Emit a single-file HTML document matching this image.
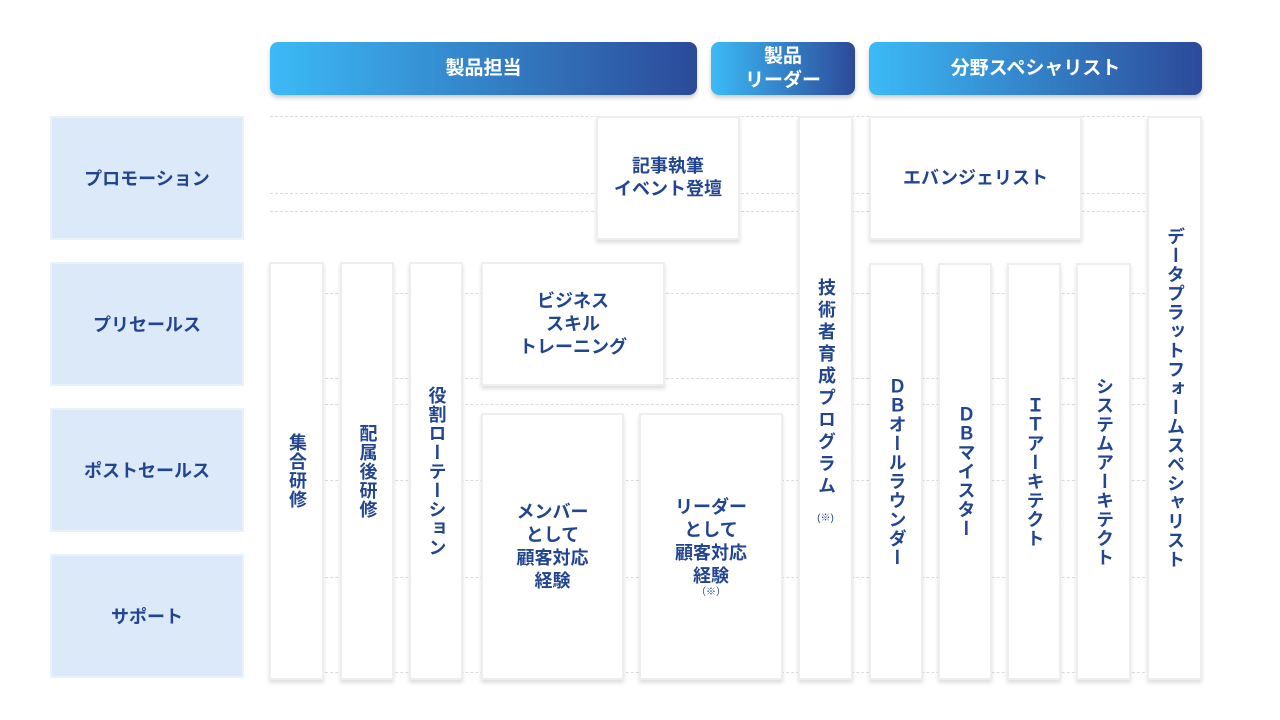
<!DOCTYPE html><html><head><meta charset="utf-8"><style>
body{margin:0;width:1280px;height:720px;background:#fff;position:relative;overflow:hidden;font-family:"Liberation Sans","Noto Sans CJK JP",sans-serif;font-weight:bold;color:#22458f}
.a{position:absolute;box-sizing:border-box;display:flex;align-items:center;justify-content:center;text-align:center}
.h{background:linear-gradient(90deg,#3cbaf7,#2c4a98);color:#fff;border-radius:8px;font-size:19px;box-shadow:0 3px 4px rgba(0,0,0,.2);line-height:24px}
.r{background:#dbe9f8;border:2px solid #e9f1fb;font-size:18px}
.b{background:#fff;border:2px solid #eeeeee;box-shadow:0 3px 4px rgba(0,0,0,.13);font-size:18px;line-height:23px}
.v{writing-mode:vertical-rl;text-orientation:upright;font-size:18px;letter-spacing:1px}
.d{position:absolute;left:270px;width:930px;border-top:1px dashed #dcdcdc;height:0}
small{font-size:10px;font-weight:normal}
</style></head><body>
<div class="d" style="top:116px"></div><div class="d" style="top:193px"></div><div class="d" style="top:211px"></div>
<div class="d" style="top:293px"></div><div class="d" style="top:378px"></div><div class="d" style="top:404px"></div>
<div class="d" style="top:480px"></div><div class="d" style="top:577px"></div><div class="d" style="top:672px"></div>

<div class="a h" style="left:270px;top:42px;width:427px;height:53px">製品担当</div>
<div class="a h" style="left:711px;top:42px;width:144px;height:53px">製品<br>リーダー</div>
<div class="a h" style="left:869px;top:42px;width:333px;height:53px">分野スペシャリスト</div>

<div class="a r" style="left:50px;top:116px;width:194px;height:124px">プロモーション</div>
<div class="a r" style="left:50px;top:262px;width:194px;height:124px">プリセールス</div>
<div class="a r" style="left:50px;top:408px;width:194px;height:124px">ポストセールス</div>
<div class="a r" style="left:50px;top:554px;width:194px;height:124px">サポート</div>

<div class="a b" style="left:269px;top:262px;width:55px;height:418px"><span class="v">集合研修</span></div>
<div class="a b" style="left:340px;top:262px;width:54px;height:418px"><span class="v">配属後研修</span></div>
<div class="a b" style="left:409px;top:262px;width:54px;height:418px"><span class="v">役割ローテーション</span></div>
<div class="a b" style="left:481px;top:262px;width:184px;height:124px">ビジネス<br>スキル<br>トレーニング</div>
<div class="a b" style="left:481px;top:413px;width:143px;height:267px">メンバー<br>として<br>顧客対応<br>経験</div>
<div class="a b" style="left:639px;top:413px;width:144px;height:267px"><div>リーダー<br>として<br>顧客対応<br>経験<br><small style="display:block;line-height:10px">（※）</small></div></div>
<div class="a b" style="left:596px;top:116px;width:144px;height:124px">記事執筆<br>イベント登壇</div>
<div class="a b" style="left:798px;top:116px;width:55px;height:564px;align-items:flex-start;padding-top:160px"><div><span class="v" style="letter-spacing:4px">技術者育成プログラム</span><br><small>(※)</small></div></div>
<div class="a b" style="left:869px;top:116px;width:213px;height:124px">エバンジェリスト</div>
<div class="a b" style="left:869px;top:263px;width:54px;height:417px"><span class="v">ＤＢオールラウンダー</span></div>
<div class="a b" style="left:938px;top:263px;width:54px;height:417px"><span class="v">ＤＢマイスター</span></div>
<div class="a b" style="left:1007px;top:263px;width:54px;height:417px"><span class="v">ＩＴアーキテクト</span></div>
<div class="a b" style="left:1076px;top:263px;width:55px;height:417px"><span class="v">システムアーキテクト</span></div>
<div class="a b" style="left:1147px;top:116px;width:55px;height:564px"><span class="v">データプラットフォームスペシャリスト</span></div>
</body></html>
